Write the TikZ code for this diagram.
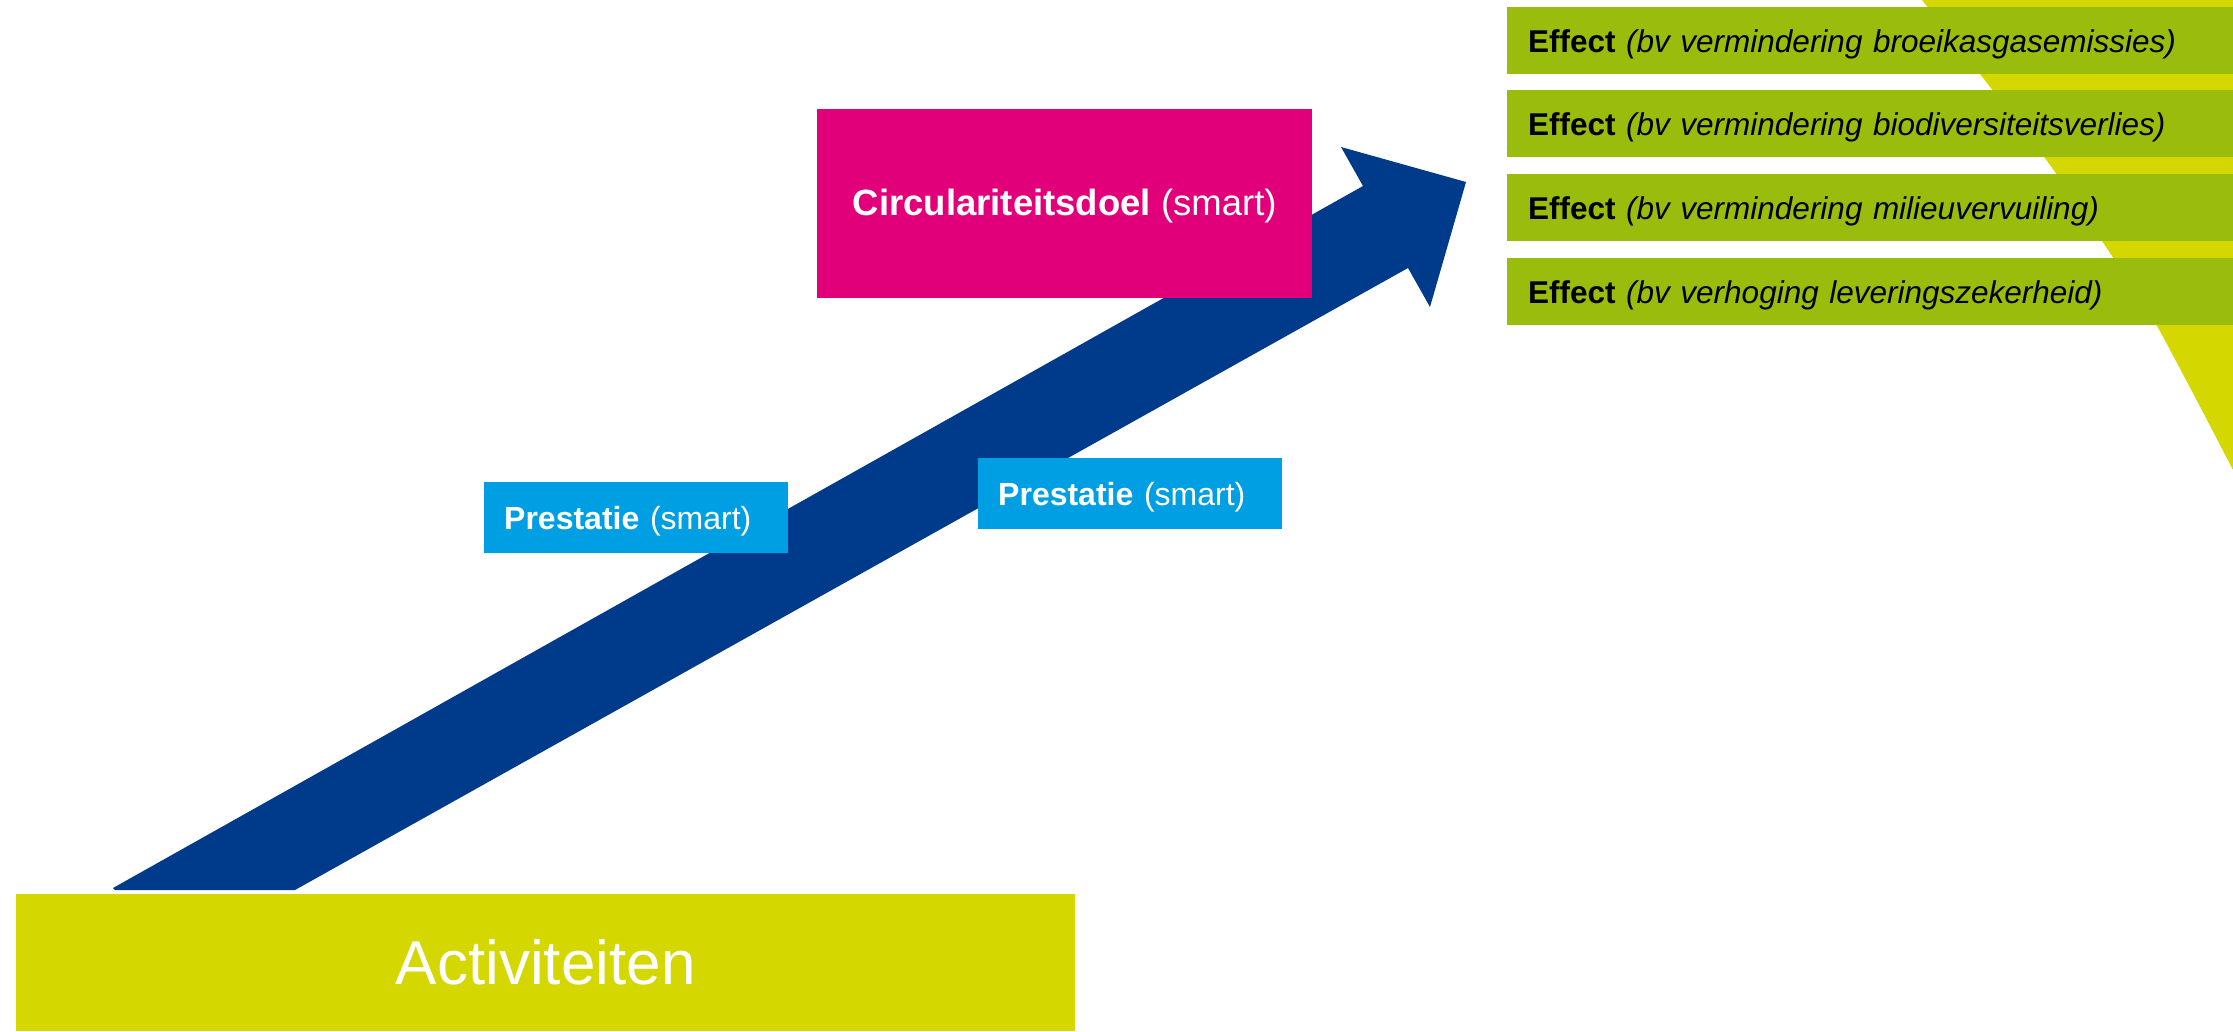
\documentclass[tikz,border=0pt]{standalone}
\usepackage{fontspec}
\setmainfont{Liberation Sans}
\definecolor{navy}{HTML}{003A8A}
\definecolor{pinkc}{HTML}{E2007A}
\definecolor{bluec}{HTML}{009FE3}
\definecolor{greenc}{HTML}{9ABC0D}
\definecolor{yellowc}{HTML}{D4D700}
\tikzset{
  effbox/.style={fill=greenc, anchor=north west, minimum height=67pt, inner ysep=0pt,
    inner xsep=21pt, text width=684pt, align=left, text=black,
    text height=23pt, text depth=0pt,
    font=\fontsize{31.5}{38}\selectfont},
  prestbox/.style={fill=bluec, anchor=north west, minimum height=71pt, inner ysep=0pt,
    inner xsep=20pt, text width=264pt, align=left, text=white,
    text height=23pt, text depth=0pt,
    font=\fontsize{32}{38}\selectfont},
  goalbox/.style={fill=pinkc, anchor=north west, minimum width=495pt, minimum height=189pt,
    inner sep=0pt, text=white, text height=24pt, text depth=0pt,
    font=\fontsize{36.5}{42}\selectfont},
  actbox/.style={fill=yellowc, anchor=north west, minimum width=1059pt, minimum height=137pt,
    inner sep=0pt, text=white, text height=44pt, text depth=0pt,
    font=\fontsize{62}{70}\selectfont}
}
\begin{document}
\begin{tikzpicture}[x=1pt,y=-1pt]
\useasboundingbox (0,0) rectangle (2233,1031);
% yellow curved band on the right
\fill[yellowc] plot[smooth] coordinates {(1922,0) (1980,74) (2050,165) (2108,250) (2157,326) (2233,470)} -- (2233,0) -- cycle;
% big arrow
\fill[navy] (113,888) -- (115,890) -- (295,890) -- (1408,268) -- (1430,307) -- (1466,182) -- (1341,147) -- (1363,186) -- cycle;
% boxes
\node[actbox] (act) at (16,894) {Activiteiten};
\node[goalbox] (goal) at (817,109) {\textbf{Circulariteitsdoel} (smart)};
\node[prestbox] (p1) at (484,482) {\textbf{Prestatie} (smart)};
\node[prestbox] (p2) at (978,458) {\textbf{Prestatie} (smart)};
\node[effbox] (e1) at (1507,7) {\textbf{Effect} \textit{(bv vermindering broeikasgasemissies)}};
\node[effbox] (e2) at (1507,90) {\textbf{Effect} \textit{(bv vermindering biodiversiteitsverlies)}};
\node[effbox] (e3) at (1507,174) {\textbf{Effect} \textit{(bv vermindering milieuvervuiling)}};
\node[effbox] (e4) at (1507,258) {\textbf{Effect} \textit{(bv verhoging leveringszekerheid)}};
\end{tikzpicture}
\end{document}
